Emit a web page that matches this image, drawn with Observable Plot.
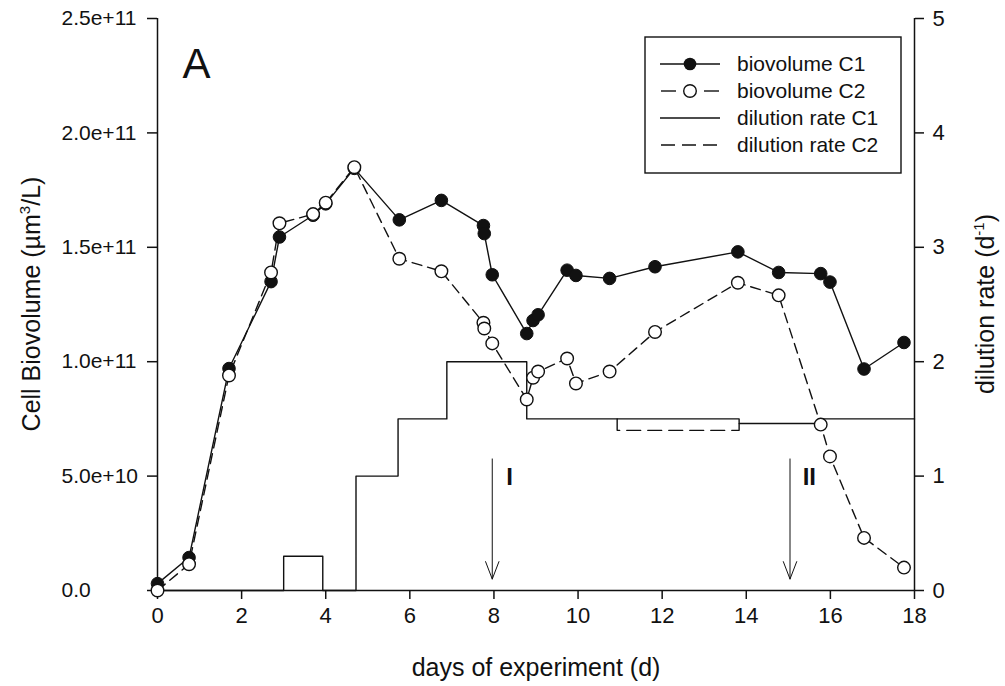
<!DOCTYPE html>
<html>
<head>
<meta charset="utf-8">
<script src="https://cdn.jsdelivr.net/npm/d3@7"></script>
<script src="https://cdn.jsdelivr.net/npm/@observablehq/plot@0.6"></script>
<style>
  body { margin: 0; background: #fff; }
  #chart { width: 1005px; height: 686px; }
</style>
</head>
<body>
<div id="chart"></div>
<script>
// ---- data ----
const days = [0, 0.75, 1.7, 2.7, 2.9, 3.7, 4.0, 4.68, 5.75, 6.75, 7.75, 7.77, 7.96, 8.78, 8.93, 9.05, 9.74, 9.95, 10.75, 11.83, 13.8, 14.77, 15.77, 15.99, 16.8, 17.75];
// biovolume in units of 1e9 µm³/L
const biovolumeC1 = [3, 14.4, 97, 135, 154.5, 164, 169, 184.5, 162, 170.5, 159.5, 156, 138, 112.3, 118, 120.5, 140, 137.7, 136.4, 141.5, 148, 139, 138.5, 134.8, 96.8, 108.4];
const biovolumeC2 = [0, 11.5, 94, 139, 160.5, 164.5, 169.5, 185, 145, 139.5, 117, 114.5, 108, 83.5, 93, 95.7, 101.4, 90.5, 95.7, 113, 134.5, 129, 72.5, 58.6, 23, 10];

// dilution rate (d^-1), step changes
const dilutionDaysC1 = [0, 3.0, 3.93, 4.72, 5.72, 6.88, 8.78, 13.83, 15.8, 18];
const dilutionRateC1 = [0, 0.3, 0, 1.0, 1.5, 2.0, 1.5, 1.46, 1.5, 1.5];
const dilutionDaysC2 = [10.93, 10.93, 13.83, 13.83];
const dilutionRateC2 = [1.5, 1.4, 1.4, 1.46];

// event arrows
const arrowDays = [7.96, 15.04];
const arrowTopRate = 1.15;
const arrowBottomRate = 0.1;
const arrowLabels = ["I", "II"];
const arrowLabelDays = [8.37, 15.5];
const arrowLabelRate = 0.99;

// axes
const xTicks = [0, 2, 4, 6, 8, 10, 12, 14, 16, 18];
const leftTicks = [0, 5e10, 1e11, 1.5e11, 2e11, 2.5e11];
const rightTicks = [0, 1, 2, 3, 4, 5];
const legendLabels = ["biovolume C1", "biovolume C2", "dilution rate C1", "dilution rate C2"];
const panelLabel = "A";

// ---- build tables ----
const K = 5e10; // 1 d^-1 on the right axis corresponds to 5e10 on the left axis
const bioC1 = days.map((d, i) => ({day: d, v: biovolumeC1[i] * 1e9}));
const bioC2 = days.map((d, i) => ({day: d, v: biovolumeC2[i] * 1e9}));
const dilC1 = dilutionDaysC1.map((d, i) => ({day: d, v: dilutionRateC1[i] * K}));
const dilC2 = dilutionDaysC2.map((d, i) => ({day: d, v: dilutionRateC2[i] * K}));
const arrows = arrowDays.map((d) => ({day: d, top: arrowTopRate * K, bottom: arrowBottomRate * K}));
const arrowText = arrowLabels.map((t, i) => ({day: arrowLabelDays[i], v: arrowLabelRate * K, t}));

const FONT = "'Liberation Sans', Arial, Helvetica, sans-serif";
const INK = "#111";

const plot = Plot.plot({
  width: 1005,
  height: 686,
  marginLeft: 157,
  marginRight: 91,
  marginTop: 18,
  marginBottom: 96,
  style: {fontFamily: FONT, fontSize: "22px", color: INK, background: "#fff", overflow: "visible"},
  x: {domain: [0, 18]},
  y: {domain: [0, 2.5e11]},
  marks: [
    Plot.ruleX([0, 18], {stroke: INK, strokeWidth: 1.5}),
    Plot.ruleY([0], {stroke: INK, strokeWidth: 1.5}),
    Plot.axisX({ticks: xTicks, tickSize: 9, tickPadding: 8, label: null, fontSize: 22, strokeWidth: 1.5}),
    Plot.axisY({ticks: leftTicks, anchor: "left", tickSize: 10, tickPadding: 86, textAnchor: "start", label: null, fontSize: 21, strokeWidth: 1.5,
      tickFormat: (d) => d === 0 ? "0.0" : d.toExponential(1)}),
    Plot.axisY({ticks: rightTicks.map((r) => r * K), anchor: "right", tickSize: 9, tickPadding: 9, label: null, fontSize: 22, strokeWidth: 1.5,
      tickFormat: (d) => String(Math.round(d / K))}),
    // dilution rates
    Plot.line(dilC1, {x: "day", y: "v", curve: "step-after", stroke: INK, strokeWidth: 1.4}),
    Plot.line(dilC2, {x: "day", y: "v", stroke: INK, strokeWidth: 1.4, strokeDasharray: "14,7"}),
    // arrows
    Plot.arrow(arrows, {x1: "day", x2: "day", y1: "top", y2: "bottom", stroke: INK, strokeWidth: 1, headLength: 28, headAngle: 42}),
    Plot.text(arrowText, {x: "day", y: "v", text: "t", fontSize: 24, fontWeight: "bold", fill: INK}),
    // biovolume C1
    Plot.line(bioC1, {x: "day", y: "v", stroke: INK, strokeWidth: 1.4}),
    Plot.dot(bioC1, {x: "day", y: "v", r: 6.3, fill: INK, stroke: INK, strokeWidth: 1}),
    // biovolume C2
    Plot.line(bioC2, {x: "day", y: "v", stroke: INK, strokeWidth: 1.4, strokeDasharray: "10,6"}),
    Plot.dot(bioC2, {x: "day", y: "v", r: 6.3, fill: "#fff", stroke: INK, strokeWidth: 1.4}),
    // panel label
    Plot.text([panelLabel], {frameAnchor: "top-left", dx: 25, dy: 30, lineAnchor: "top", textAnchor: "start", fontSize: 42, fill: INK})
  ]
});

document.getElementById("chart").appendChild(plot);

// ---- axis titles and legend ----
const svg = d3.select(plot);
const g = svg.append("g").attr("font-family", FONT).attr("fill", INK);

// x title
g.append("text").attr("x", 536).attr("y", 676).attr("text-anchor", "middle")
  .attr("font-size", 25).text("days of experiment (d)");

// left title
const lt = g.append("text").attr("transform", "translate(40,304) rotate(-90)")
  .attr("text-anchor", "middle").attr("font-size", 25);
lt.append("tspan").text("Cell Biovolume (µm");
lt.append("tspan").attr("dy", -10).attr("font-size", 15).text("3");
lt.append("tspan").attr("dy", 10).text("/L)");

// right title
const rt = g.append("text").attr("transform", "translate(994,304) rotate(-90)")
  .attr("text-anchor", "middle").attr("font-size", 25);
rt.append("tspan").text("dilution rate (d");
rt.append("tspan").attr("dy", -10).attr("font-size", 15).text("-1");
rt.append("tspan").attr("dy", 10).text(")");

// legend
const lg = svg.append("g").attr("font-family", FONT);
lg.append("rect").attr("x", 645).attr("y", 37).attr("width", 256).attr("height", 136)
  .attr("fill", "#fff").attr("stroke", INK).attr("stroke-width", 1.4);
const rows = [64, 91, 118, 145];
legendLabels.forEach((lab, i) => {
  const y = rows[i];
  if (i === 0) {
    lg.append("line").attr("x1", 660).attr("x2", 720).attr("y1", y).attr("y2", y).attr("stroke", INK).attr("stroke-width", 1.4);
    lg.append("circle").attr("cx", 690).attr("cy", y).attr("r", 6.3).attr("fill", INK);
  } else if (i === 1) {
    lg.append("line").attr("x1", 661).attr("x2", 676).attr("y1", y).attr("y2", y).attr("stroke", INK).attr("stroke-width", 1.4);
    lg.append("line").attr("x1", 704).attr("x2", 719).attr("y1", y).attr("y2", y).attr("stroke", INK).attr("stroke-width", 1.4);
    lg.append("circle").attr("cx", 690).attr("cy", y).attr("r", 6.3).attr("fill", "#fff").attr("stroke", INK).attr("stroke-width", 1.4);
  } else if (i === 2) {
    lg.append("line").attr("x1", 660).attr("x2", 720).attr("y1", y).attr("y2", y).attr("stroke", INK).attr("stroke-width", 1.4);
  } else {
    lg.append("line").attr("x1", 661).attr("x2", 719).attr("y1", y).attr("y2", y).attr("stroke", INK).attr("stroke-width", 1.4).attr("stroke-dasharray", "14,7");
  }
  lg.append("text").attr("x", 737).attr("y", y).attr("dy", "0.35em").attr("text-anchor", "start")
    .attr("font-size", 21).attr("fill", INK).text(lab);
});
</script>
</body>
</html>
